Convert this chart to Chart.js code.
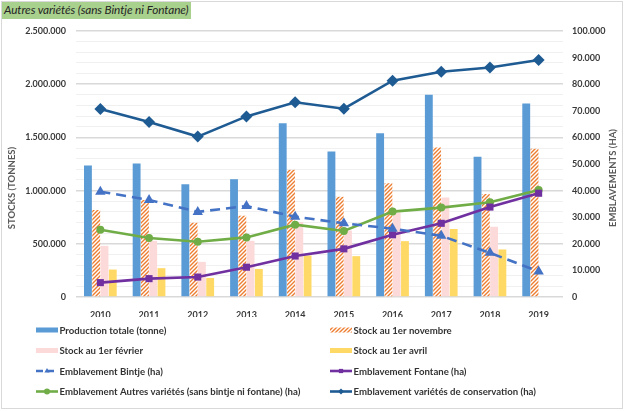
<!DOCTYPE html>
<html><head><meta charset="utf-8">
<script src="https://cdn.jsdelivr.net/npm/chart.js@4/dist/chart.umd.min.js"></script>
<style>
html,body{margin:0;padding:0;background:#fff;}
#wrap{position:relative;width:625px;height:411px;overflow:hidden;}
#frame{position:absolute;left:1px;top:1px;width:622px;height:408px;border:1px solid #d9d9d9;box-sizing:border-box;}
#title{position:absolute;left:2px;top:2px;height:17px;line-height:17px;padding:0 2px;background:#a9d18e;font:italic 11.8px Lato,sans-serif;color:#262626;letter-spacing:-0.1px;}
canvas{position:absolute;left:0;top:0;}
</style></head><body>
<div id="wrap"><div id="frame"></div><canvas id="c" width="625" height="411" style="width:625px;height:411px"></canvas><div id="title">Autres variétés (sans Bintje ni Fontane)</div></div>
<script>
const years = ['2010','2011','2012','2013','2014','2015','2016','2017','2018','2019'];
const productionTotale = [1236000,1255000,1060000,1107000,1632000,1368000,1538000,1900000,1318000,1818000];
const stockNovembre = [818000,912000,698000,764000,1195000,943000,1070000,1406000,969000,1393000];
const stockFevrier = [481000,528000,330000,528000,705000,625000,792000,934000,660000,null];
const stockAvril = [258000,271000,179000,264000,390000,384000,525000,639000,447000,null];
const emblBintje = [39600,36500,32000,34200,30200,27700,25700,23000,16600,9600];
const emblFontane = [5400,6900,7500,11200,15400,18100,23400,27700,33800,39000];
const emblAutres = [25300,22200,20800,22400,27200,24800,32100,33600,35600,40200];
const emblConservation = [70700,65800,60300,67900,73200,70800,81300,84700,86300,89100];
const leftTicksMax = 2500000;
const rightTicksMax = 100000;

const FONT = "Lato,'Liberation Sans',sans-serif";
const fmt = v => String(v).replace(/\B(?=(\d{3})+(?!\d))/g, '.');

function hatch(){
  const c = document.createElement('canvas'); c.width = 4; c.height = 4;
  const g = c.getContext('2d');
  g.fillStyle = '#ffffff'; g.fillRect(0,0,4,4);
  g.strokeStyle = '#ed7d31'; g.lineWidth = 1.4;
  g.beginPath();
  g.moveTo(0,4); g.lineTo(4,0);
  g.moveTo(-1,1); g.lineTo(1,-1);
  g.moveTo(3,5); g.lineTo(5,3);
  g.stroke();
  return g.createPattern(c,'repeat');
}
const orangeHatch = hatch();

const barCommon = {type:'bar', yAxisID:'y', order:2, categoryPercentage:0.68, barPercentage:0.95};
const lineCommon = {type:'line', yAxisID:'y2', order:1, borderWidth:2.6, fill:false, tension:0};

const datasets = [
  Object.assign({label:'Production totale (tonne)', data:productionTotale, backgroundColor:'#5b9bd5'}, barCommon),
  Object.assign({label:'Stock au 1er novembre', data:stockNovembre, backgroundColor:orangeHatch}, barCommon),
  Object.assign({label:'Stock au 1er février', data:stockFevrier, backgroundColor:'#fcdada'}, barCommon),
  Object.assign({label:'Stock au 1er avril', data:stockAvril, backgroundColor:'#ffd966'}, barCommon),
  Object.assign({label:'Emblavement Bintje (ha)', data:emblBintje, borderColor:'#4472c4', backgroundColor:'#4472c4', borderDash:[10,6], pointStyle:'triangle', pointRadius:6, pointBorderWidth:0}, lineCommon),
  Object.assign({label:'Emblavement Fontane (ha)', data:emblFontane, borderColor:'#7030a0', backgroundColor:'#7030a0', pointStyle:'rect', pointRadius:5, pointBorderWidth:0}, lineCommon),
  Object.assign({label:'Emblavement Autres variétés (sans bintje ni fontane) (ha)', data:emblAutres, borderColor:'#70ad47', backgroundColor:'#70ad47', pointStyle:'circle', pointRadius:4, pointBorderWidth:0}, lineCommon),
  Object.assign({label:'Emblavement variétés de conservation (ha)', data:emblConservation, borderColor:'#1f5b93', backgroundColor:'#1f5b93', pointStyle:'rectRot', pointRadius:6, pointBorderWidth:0}, lineCommon)
];

const legendPlugin = {
  id:'customLegend',
  afterDraw(chart){
    const ctx = chart.ctx;
    const cols = [36, 330];
    const rows = [330, 350.5, 371, 391.5];
    ctx.save();
    chart.data.datasets.forEach((ds,i)=>{
      const x = cols[i%2], y = rows[Math.floor(i/2)];
      if (ds.type === 'bar') {
        ctx.fillStyle = ds.backgroundColor;
        ctx.fillRect(x, y-2.5, 22, 5);
      } else {
        ctx.strokeStyle = ds.borderColor; ctx.lineWidth = 2.6;
        ctx.setLineDash(ds.borderDash ? [7,4] : []);
        ctx.beginPath(); ctx.moveTo(x, y); ctx.lineTo(x+22, y); ctx.stroke();
        ctx.setLineDash([]);
        ctx.fillStyle = ds.backgroundColor;
        Chart.helpers.drawPoint(ctx, {pointStyle: ds.pointStyle, radius: 3, borderWidth: 0}, x+11, y);
      }
      ctx.fillStyle = '#333333';
      ctx.font = 'bold 9.6px ' + FONT;
      ctx.textBaseline = 'middle'; ctx.textAlign = 'left';
      ctx.fillText(ds.label, x+23.5, y+0.5);
    });
    ctx.fillStyle = '#595959';
    ctx.font = 'bold 9.5px ' + FONT;
    ctx.textAlign = 'center'; ctx.textBaseline = 'middle';
    ctx.save(); ctx.translate(12, 188); ctx.rotate(-Math.PI/2); ctx.fillText('STOCKS (TONNES)', 0, 0); ctx.restore();
    ctx.save(); ctx.translate(613, 178); ctx.rotate(-Math.PI/2); ctx.fillText('EMBLAVEMENTS (HA)', 0, 0); ctx.restore();
    ctx.restore();
  }
};

new Chart(document.getElementById('c'), {
  data: {labels: years, datasets},
  options: {
    responsive:false, animation:false, devicePixelRatio:1,
    layout:{padding:{left:0, right:0, top:31, bottom:94}},
    plugins:{legend:{display:false}, tooltip:{enabled:false}, title:{display:false}},
    scales:{
      x:{
        grid:{display:false}, border:{display:false},
        afterFit: s => { s.height = 20; },
        ticks:{color:'#3a3a3a', font:{family:FONT, size:9, weight:'bold'}, padding:5}
      },
      y:{
        position:'left', min:0, max:leftTicksMax,
        afterFit: s => { s.width = 76; },
        grid:{
          color: c => (c.tick && c.tick.value % 500000 === 0) ? '#d9d9d9' : '#f0f0f0',
          lineWidth: c => (c.tick && c.tick.value % 500000 === 0) ? 1.5 : 1,
          drawTicks:false
        },
        border:{display:false},
        ticks:{stepSize:100000, autoSkip:false, padding:10, color:'#3a3a3a', font:{family:FONT, size:9, weight:'bold'},
          callback: v => (v % 500000 === 0) ? fmt(v) : ''}
      },
      y2:{
        position:'right', min:0, max:rightTicksMax,
        afterFit: s => { s.width = 62; },
        grid:{display:false, drawTicks:false}, border:{display:false},
        ticks:{stepSize:10000, autoSkip:false, padding:9, color:'#3a3a3a', font:{family:FONT, size:9, weight:'bold'},
          callback: v => fmt(v)}
      }
    }
  },
  plugins:[legendPlugin]
});
</script>
</body></html>
